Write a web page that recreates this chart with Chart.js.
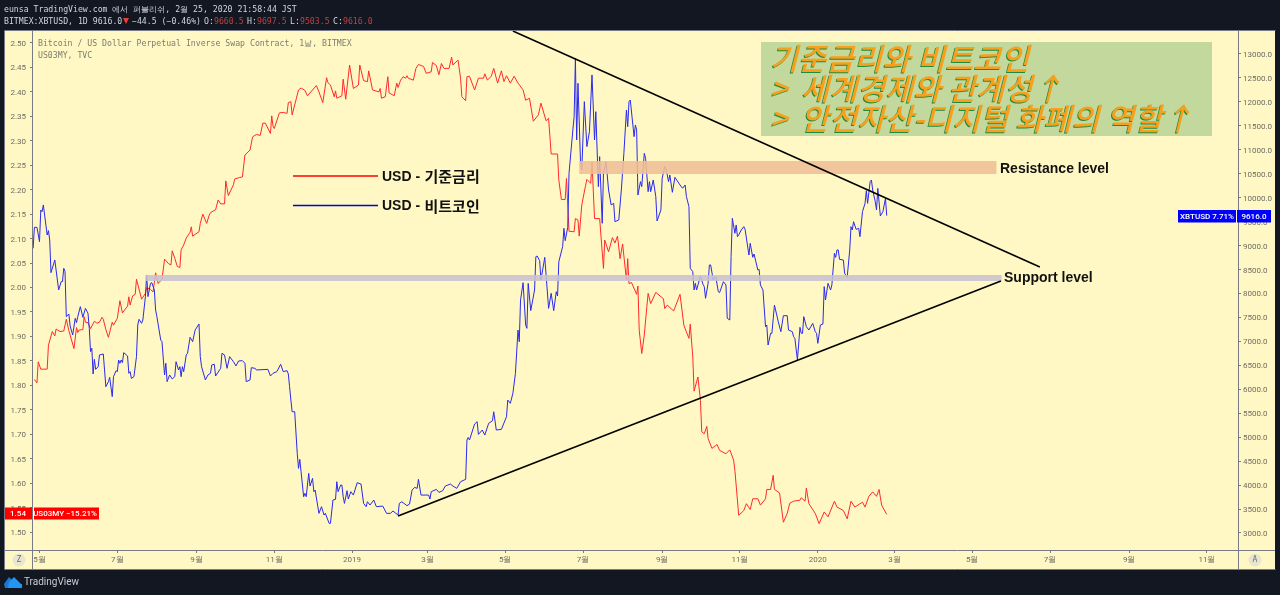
<!DOCTYPE html>
<html>
<head>
<meta charset="utf-8">
<title>XBTUSD vs US03MY</title>
<script src="https://cdn.jsdelivr.net/npm/chart.js@4"></script>
<style>
html, body { margin: 0; padding: 0; background: #131722; overflow: hidden; }
canvas { display: block; }
</style>
</head>
<body>
<canvas id="chart" width="1280" height="595"></canvas>
<script>
// x is counted in days from 2018-05-01
const rateDays = [-4,-2,-1,1,6,7,10,12,13,16,19,21,23,27,29,30,31,34,35,36,38,40,43,45,47,49,50,52,54,57,58,61,63,65,69,70,71,73,75,76,80,83,84,87,89,91,93,96,98,101,103,104,106,108,110,111,113,115,118,119,120,125,126,128,131,133,134,138,140,142,145,146,148,152,153,157,159,161,165,167,170,173,175,177,181,182,183,184,188,191,194,195,197,198,203,205,208,210,217,219,222,225,226,228,231,232,233,237,238,240,243,246,250,251,254,257,258,261,266,267,268,271,273,274,278,280,281,283,285,287,288,289,293,295,297,301,303,307,308,311,313,315,317,321,323,324,328,330,331,334,335,337,341,344,348,349,351,354,356,359,362,364,366,369,372,375,379,381,384,387,391,393,397,399,401,406,407,409,412,413,415,419,420,422,423,425,428,429,432,433,435,439,442,443,446,449,451,453,455,457,460,461,462,464,468,469,470,472,474,476,477,479,483,489,490,492,497,502,505,507,509,510,512,513,516,518,519,521,523,524,527,531,533,538,541,544,545,548,552,554,557,559,563,565,569,570,573,575,576,580,583,586,588,591,596,597,600,601,603,608,611,615,618,623,625,630,633,636,639,645,647,650,653,656,658,660,664];
const rateValues = [1.812,1.805,1.848,1.833,1.833,1.882,1.910,1.901,1.915,1.910,1.911,1.935,1.912,1.875,1.918,1.908,1.913,1.914,1.940,1.929,1.928,1.916,1.931,1.927,1.929,1.939,1.935,1.914,1.898,1.929,1.923,1.937,1.973,1.948,1.962,1.981,1.964,1.983,1.986,2.017,1.976,1.988,2.000,1.996,1.991,2.030,2.008,2.017,2.058,2.049,2.046,2.075,2.060,2.043,2.041,2.077,2.087,2.101,2.113,2.124,2.105,2.114,2.131,2.150,2.131,2.148,2.153,2.159,2.179,2.171,2.171,2.218,2.188,2.210,2.222,2.225,2.226,2.271,2.281,2.308,2.313,2.311,2.336,2.336,2.315,2.351,2.330,2.325,2.357,2.358,2.356,2.378,2.380,2.353,2.404,2.408,2.403,2.392,2.413,2.400,2.378,2.429,2.419,2.414,2.390,2.402,2.387,2.392,2.426,2.385,2.455,2.407,2.414,2.455,2.423,2.421,2.443,2.404,2.400,2.407,2.387,2.390,2.431,2.398,2.392,2.418,2.409,2.424,2.431,2.428,2.433,2.428,2.424,2.448,2.456,2.452,2.438,2.441,2.460,2.454,2.435,2.458,2.448,2.448,2.471,2.455,2.465,2.428,2.390,2.382,2.431,2.432,2.404,2.428,2.428,2.437,2.424,2.432,2.448,2.418,2.443,2.421,2.433,2.418,2.432,2.418,2.404,2.383,2.387,2.340,2.353,2.377,2.341,2.346,2.273,2.273,2.220,2.180,2.180,2.223,2.115,2.114,2.141,2.138,2.105,2.169,2.209,2.221,2.213,2.257,2.141,2.141,2.039,2.097,2.073,2.102,2.091,2.105,2.059,2.089,2.015,2.059,2.008,2.010,1.986,2.003,1.913,1.865,1.903,1.961,1.988,1.967,1.990,1.977,1.957,1.964,1.952,1.986,1.923,1.909,1.896,1.925,1.858,1.788,1.817,1.769,1.705,1.701,1.716,1.691,1.671,1.679,1.667,1.660,1.668,1.647,1.626,1.534,1.544,1.558,1.546,1.568,1.568,1.555,1.568,1.587,1.587,1.616,1.587,1.580,1.520,1.538,1.559,1.563,1.565,1.570,1.563,1.590,1.558,1.538,1.517,1.541,1.531,1.563,1.551,1.544,1.527,1.563,1.551,1.561,1.551,1.573,1.582,1.573,1.587,1.555,1.536];

const btcDays = [-5,-4,-2,0,1,2,3,6,7,8,9,12,15,17,18,19,20,21,23,24,26,28,29,30,32,34,36,38,39,40,41,42,43,44,46,47,50,52,54,55,57,58,60,61,62,63,64,65,66,69,70,71,72,74,76,77,78,80,81,83,84,85,87,88,90,91,92,95,96,98,99,100,102,104,106,107,109,110,111,112,113,115,116,118,120,122,125,126,127,130,132,134,135,137,138,142,143,145,147,149,152,154,156,159,161,162,165,166,169,170,179,181,183,186,189,191,194,195,196,197,198,200,202,203,204,205,207,208,209,211,212,214,215,216,219,221,223,224,227,228,230,232,233,234,236,237,238,239,241,242,244,246,249,252,254,256,257,259,262,264,269,272,275,277,281,282,284,288,290,292,294,296,297,299,305,306,307,311,313,316,318,322,324,327,330,334,335,336,337,341,343,344,347,349,352,355,356,358,362,366,367,369,371,373,375,376,377,379,381,382,383,385,388,389,390,392,393,396,399,401,403,405,406,407,410,411,412,414,415,418,419,420,421,422,424,425,427,429,431,433,435,436,438,439,441,442,444,446,448,450,451,454,456,458,460,461,462,463,466,467,468,469,471,472,474,475,477,478,479,481,483,484,487,488,490,491,493,494,496,498,502,504,506,507,509,510,512,513,514,515,518,520,521,522,524,525,526,528,530,532,533,536,538,539,541,542,543,545,546,547,548,550,552,553,556,557,559,560,563,564,565,567,569,570,571,573,574,576,579,581,583,586,587,590,591,592,594,596,597,598,599,601,603,606,608,609,610,612,614,615,616,618,620,621,623,624,625,626,627,630,631,633,635,636,637,638,640,642,643,645,647,648,649,651,652,653,655,656,657,659,661,663,664];
const btcValues = [8943,9381,9381,9082,9743,9708,9848,9221,9312,9117,8435,8699,8073,8247,8247,8525,8456,7516,7572,7321,7133,7481,7391,7516,7725,7502,7690,7586,7272,6785,6855,6319,6625,6416,6472,6716,6736,6054,6159,6249,5846,6263,6388,6368,6611,6542,6611,6556,6764,6695,6333,6368,6228,6263,6681,7342,7460,7377,7446,7934,8386,7934,8212,8226,8073,7655,7516,7029,6994,6298,6542,6159,6298,6215,6263,6576,6402,6472,6263,6472,6368,6716,6750,7084,6994,7238,7363,6681,6472,6194,6298,6333,6507,6521,6277,6437,6750,6716,6437,6681,6576,6486,6590,6597,6542,6159,6194,6451,6437,6402,6416,6277,6333,6368,6521,6368,6388,6319,6054,5776,5531,5531,4661,4348,4536,4279,3757,3826,3757,4244,3979,4139,3861,3896,3409,3548,3374,3409,3200,3200,3687,3701,4070,3861,4000,4000,3757,3617,3882,3708,3861,3791,4049,4021,3617,3548,3652,3583,3687,3548,3562,3409,3409,3457,3374,3617,3652,3569,3603,3896,3951,3931,4119,3791,3791,3708,3861,3910,3847,3882,3979,4021,3979,3931,4070,4119,4940,4995,4940,5274,5323,5058,5149,5044,5288,5343,5531,5149,5163,5427,5775,5706,5915,6332,7237,6993,7863,8225,7341,7272,8211,7641,8072,8768,8782,8685,8281,8754,7689,8003,7641,8037,7947,8664,8977,9360,9102,9381,10508,11413,11692,12910,11205,12388,10752,10578,12005,11066,11379,12562,11205,11796,10230,10857,9465,10509,10752,10161,9848,9882,9500,9534,10161,10926,11831,11483,12005,12040,11274,11518,11414,10056,10335,10230,10926,10822,10126,10335,10126,10370,10022,9513,9743,10404,10648,10613,10335,10474,10112,10425,10265,10196,10265,10022,9813,8525,8456,8073,8212,8073,8365,8191,8142,7899,8212,8595,8595,8282,8351,8038,8017,8246,8177,7481,7446,8768,9569,9256,9430,9186,9221,9325,9395,9339,8803,9047,8755,8824,8490,8504,8177,8072,7307,7342,6924,7168,7168,7759,7411,7202,7536,7536,7237,7202,7098,7063,6611,7293,7168,7168,7516,7307,7237,7376,7202,7168,6959,7342,7362,8142,7864,8212,8072,8177,8838,8754,8908,8908,8713,8699,8420,8337,8908,9395,9325,9499,9339,9360,9186,9708,9882,10146,9882,10334,10369,10160,9917,9743,10195,9618,9708,9986,9625];

// drawn trend lines and level zones, in days and XBTUSD price
const upperTrendDays = [371, 784];
const upperTrendPrices = [13480, 8553];
const lowerTrendDays = [281, 753.5];
const lowerTrendPrices = [3353, 8260];
const resistanceDays = [423, 750];
const resistancePrices = [10630, 10630];
const supportDays = [83, 754];
const supportPrices = [8323, 8323];

const monthTicks = [0, 61, 123, 184, 245, 304, 365, 426, 488, 549, 610, 670, 731, 792, 854, 915];
const monthLabels = ["5월", "7월", "9월", "11월", "2019", "3월", "5월", "7월", "9월", "11월", "2020", "3월", "5월", "7월", "9월", "11월"];
const rateTicks = [1.50,1.55,1.60,1.65,1.70,1.75,1.80,1.85,1.90,1.95,2.00,2.05,2.10,2.15,2.20,2.25,2.30,2.35,2.40,2.45,2.50];
const btcTicks = [3000,3500,4000,4500,5000,5500,6000,6500,7000,7500,8000,8500,9000,9500,10000,10500,11000,11500,12000,12500,13000];

const noteLines = ["기준금리와 비트코인", ">  세계경제와 관계성↑", ">  안전자산-디지털 화폐의 역할↑"];

const toPoints = (xs, ys) => xs.map((x, i) => ({x: x, y: ys[i]}));

const CREAM = "#fff8c4";
const AXIS_COLOR = "#787b86";
const TICK_COLOR = "#6c6c62";
const MONO = "'DejaVu Sans Mono', monospace";
const TICK_FONT = {family: "Roboto", size: 8};

function label(ctx, text, x, y, color, font, align){
    ctx.fillStyle = color;
    ctx.font = font;
    ctx.textAlign = align || "left";
    ctx.textBaseline = "middle";
    ctx.fillText(text, x, y);
}

const frame = {
    id: "frame",
    beforeDraw(chart){
        const ctx = chart.ctx;
        ctx.save();
        ctx.fillStyle = "#131722";
        ctx.fillRect(0, 0, 1280, 595);
        ctx.fillStyle = CREAM;
        ctx.fillRect(5, 31, 1270, 538);
        ctx.restore();
    },
    afterDraw(chart){
        const ctx = chart.ctx;
        ctx.save();

        // panel edges
        ctx.strokeStyle = AXIS_COLOR;
        ctx.lineWidth = 1;
        ctx.beginPath();
        ctx.moveTo(4.5, 30.5); ctx.lineTo(1275.5, 30.5);
        ctx.moveTo(32.5, 31); ctx.lineTo(32.5, 569);
        ctx.moveTo(1238.5, 31); ctx.lineTo(1238.5, 569);
        ctx.moveTo(5, 550.5); ctx.lineTo(1275, 550.5);
        ctx.moveTo(4.5, 30.5); ctx.lineTo(4.5, 569.5); ctx.lineTo(1275.5, 569.5);
        ctx.stroke();

        // header
        const head = "8.2px " + MONO;
        const light = "#d1d4dc";
        const red = "#c04040";
        label(ctx, "eunsa TradingView.com 에서 퍼블리쉬, 2월 25, 2020 21:58:44 JST", 4, 10, light, head);
        label(ctx, "BITMEX:XBTUSD, 1D 9616.0", 4, 22, light, head);
        ctx.fillStyle = "#ef3b3b";
        ctx.beginPath();
        ctx.moveTo(123, 18); ctx.lineTo(129, 18); ctx.lineTo(126, 24);
        ctx.fill();
        label(ctx, "−44.5 (−0.46%)", 132, 22, light, head);
        label(ctx, "O:", 204, 22, light, head);
        label(ctx, "9660.5", 214, 22, red, head);
        label(ctx, "H:", 247, 22, light, head);
        label(ctx, "9697.5", 257, 22, red, head);
        label(ctx, "L:", 290, 22, light, head);
        label(ctx, "9503.5", 300, 22, red, head);
        label(ctx, "C:", 333, 22, light, head);
        label(ctx, "9616.0", 343, 22, red, head);

        // series titles
        label(ctx, "Bitcoin / US Dollar Perpetual Inverse Swap Contract, 1날, BITMEX", 38, 44, "#7c7c70", head);
        label(ctx, "US03MY, TVC", 38, 56, "#7c7c70", head);

        // hand drawn legend
        ctx.lineWidth = 1.5;
        ctx.strokeStyle = "red";
        ctx.beginPath(); ctx.moveTo(293, 176); ctx.lineTo(378, 176); ctx.stroke();
        ctx.strokeStyle = "#0000e0";
        ctx.beginPath(); ctx.moveTo(293, 205.5); ctx.lineTo(378, 205.5); ctx.stroke();
        const bold = "bold 14px 'Liberation Sans', sans-serif";
        const boldKr = "bold 15px 'Noto Sans CJK KR', sans-serif";
        label(ctx, "USD - ", 382, 177, "#111", bold);
        label(ctx, "기준금리", 424.5, 176.5, "#111", boldKr);
        label(ctx, "USD - ", 382, 206.5, "#111", bold);
        label(ctx, "비트코인", 424.5, 206, "#111", boldKr);
        label(ctx, "Resistance level", 1000, 169, "#111", bold);
        label(ctx, "Support level", 1004, 278, "#111", bold);

        // note box
        ctx.fillStyle = "#c3d89c";
        ctx.fillRect(761, 42, 451, 94);
        const noteFont = "italic 500 30.5px 'Noto Sans CJK KR', sans-serif";
        const noteTop = [58, 88, 118];
        noteLines.forEach((line, i) => {
            label(ctx, line, 769, noteTop[i] + 1, "#1f8a3c", noteFont);
            label(ctx, line, 770, noteTop[i], "#f7a01e", noteFont);
        });

        // last value flags
        ctx.fillStyle = "#0000ff";
        ctx.fillRect(1178, 210, 58, 12.5);
        ctx.fillRect(1237, 210, 34, 12.5);
        const flag = "500 8px Roboto";
        label(ctx, "XBTUSD 7.71%", 1207, 216.5, "#fff", flag, "center");
        label(ctx, "9616.0", 1254, 216.5, "#fff", flag, "center");
        ctx.fillStyle = "#ff0000";
        ctx.fillRect(5, 507.5, 27, 12);
        ctx.fillRect(34, 507.5, 65, 12);
        label(ctx, "1.54", 18, 513.5, "#fff", flag, "center");
        label(ctx, "US03MY −15.21%", 65, 513.5, "#fff", flag, "center");

        // Z and A buttons
        ctx.fillStyle = "#e8e6cf";
        ctx.beginPath(); ctx.arc(19, 560, 6.5, 0, Math.PI * 2); ctx.fill();
        ctx.beginPath(); ctx.arc(1255, 560, 6.5, 0, Math.PI * 2); ctx.fill();
        label(ctx, "Z", 19, 560, "#6a6d78", "8px " + MONO, "center");
        label(ctx, "A", 1255, 560, "#6a6d78", "8px " + MONO, "center");

        // footer
        ctx.fillStyle = "#1976d2";
        ctx.beginPath();
        ctx.moveTo(4, 584); ctx.lineTo(9, 577); ctx.lineTo(13, 581); ctx.lineTo(16, 584);
        ctx.lineTo(22, 584); ctx.lineTo(22, 588); ctx.lineTo(5, 588);
        ctx.fill();
        ctx.fillStyle = "#2196f3";
        ctx.beginPath();
        ctx.moveTo(9, 582); ctx.lineTo(14, 577); ctx.lineTo(19, 582); ctx.lineTo(22, 585);
        ctx.lineTo(22, 588); ctx.lineTo(8, 588);
        ctx.fill();
        label(ctx, "TradingView", 24, 582, "#c8cad0", "10px Roboto");
        ctx.restore();
    }
};

window.addEventListener("DOMContentLoaded", () => {
    const canvas = document.getElementById("chart");
    new Chart(canvas, {
        type: "line",
        plugins: [frame],
        data: {
            datasets: [
                {data: toPoints(rateDays, rateValues), yAxisID: "yRate", borderColor: "#ff2a2a", borderWidth: 1, order: 4},
                {data: toPoints(btcDays, btcValues), yAxisID: "yBtc", borderColor: "#2a2aee", borderWidth: 1, order: 3},
                {data: toPoints(resistanceDays, resistancePrices), yAxisID: "yBtc", borderColor: "rgba(240,190,150,0.88)", borderWidth: 13, order: 2},
                {data: toPoints(supportDays, supportPrices), yAxisID: "yBtc", borderColor: "rgba(200,192,208,0.88)", borderWidth: 6, order: 2},
                {data: toPoints(upperTrendDays, upperTrendPrices), yAxisID: "yBtc", borderColor: "#000", borderWidth: 1.6, order: 1},
                {data: toPoints(lowerTrendDays, lowerTrendPrices), yAxisID: "yBtc", borderColor: "#000", borderWidth: 1.6, order: 1}
            ]
        },
        options: {
            responsive: false,
            animation: false,
            devicePixelRatio: 1,
            layout: {padding: {left: 5, right: 5, top: 31, bottom: 26}},
            elements: {point: {radius: 0}, line: {tension: 0, borderCapStyle: "butt"}},
            plugins: {legend: {display: false}, tooltip: {enabled: false}},
            scales: {
                x: {
                    type: "linear",
                    min: -5.1,
                    max: 939.3,
                    afterBuildTicks: (axis) => { axis.ticks = monthTicks.map((v) => ({value: v})); },
                    afterFit: (axis) => { axis.height = 19; },
                    grid: {drawOnChartArea: false, drawTicks: true, tickLength: 3, color: AXIS_COLOR},
                    border: {display: false},
                    ticks: {
                        autoSkip: false,
                        maxRotation: 0,
                        padding: 2,
                        color: TICK_COLOR,
                        font: TICK_FONT,
                        callback: (v) => monthLabels[monthTicks.indexOf(v)]
                    }
                },
                yRate: {
                    position: "left",
                    min: 1.4632,
                    max: 2.5245,
                    afterBuildTicks: (axis) => { axis.ticks = rateTicks.map((v) => ({value: v})); },
                    afterFit: (axis) => { axis.width = 28; },
                    grid: {drawOnChartArea: false, tickLength: 3, color: AXIS_COLOR},
                    border: {display: false},
                    ticks: {padding: 4, labelOffset: 1, color: TICK_COLOR, font: TICK_FONT, callback: (v) => v.toFixed(2)}
                },
                yBtc: {
                    position: "right",
                    min: 2644,
                    max: 13480,
                    afterBuildTicks: (axis) => { axis.ticks = btcTicks.map((v) => ({value: v})); },
                    afterFit: (axis) => { axis.width = 37; },
                    grid: {drawOnChartArea: false, tickLength: 3, color: AXIS_COLOR},
                    border: {display: false},
                    ticks: {padding: 2, labelOffset: 1, color: TICK_COLOR, font: TICK_FONT, callback: (v) => v.toFixed(1)}
                }
            }
        }
    });
});
</script>
</body>
</html>
